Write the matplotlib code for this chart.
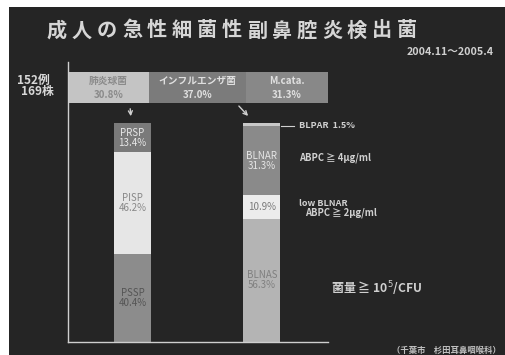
import matplotlib
matplotlib.use("Agg")
import matplotlib.pyplot as plt
from matplotlib.patches import Rectangle, FancyArrowPatch
from matplotlib.lines import Line2D

plt.rcParams['font.family'] = ['Noto Sans CJK JP', 'DejaVu Sans']

# data
top_names = ['肺炎球菌', 'インフルエンザ菌', 'M.cata.']
top_values = [30.8, 37.0, 31.3]
top_colors = ['#c4c4c4', '#7b7b7b', '#888888']
top_text = ['#8a8a8a', '#e0e0e0', '#e0e0e0']

spn_names = ['PSSP', 'PISP', 'PRSP']          # bottom -> top
spn_values = [40.4, 46.2, 13.4]
spn_colors = ['#8c8c8c', '#e6e6e6', '#7a7a7a']
spn_text = ['#555555', '#888888', '#e8e8e8']

hi_names = ['BLNAS', '', 'BLNAR', '']          # bottom -> top
hi_values = [56.3, 10.9, 31.3, 1.5]
hi_colors = ['#b4b4b4', '#ececec', '#8a8a8a', '#c8c8c8']
hi_text = ['#808080', '#7a7a7a', '#e6e6e6', '#e6e6e6']

W, H = 506, 355
fig = plt.figure(figsize=(W / 100, H / 100), dpi=100)
fig.patch.set_facecolor('white')


def fx(px):
    return px / W


def fy(py):
    return 1 - py / H


# dark slide background
fig.patches.append(Rectangle((fx(9), 0), 1, fy(7), transform=fig.transFigure,
                             facecolor='#252525', edgecolor='none', zorder=-10))

# title
title = '成人の急性細菌性副鼻腔炎検出菌'
for i, ch in enumerate(title):
    fig.text(fx(57 + 25 * i), fy(30), ch, color='#d6d6d6', fontsize=14.5,
             fontweight='bold', ha='center', va='center')
fig.text(fx(494), fy(52), '2004.11～2005.4', color='#d0d0d0', fontsize=7.7,
         fontweight='bold', ha='right', va='center')
fig.text(fx(50), fy(80), '152例', color='#d8d8d8', fontsize=8.5,
         fontweight='bold', ha='right', va='center')
fig.text(fx(54), fy(92), '169株', color='#d8d8d8', fontsize=8.5,
         fontweight='bold', ha='right', va='center')

# top horizontal stacked bar
ax_top = fig.add_axes([fx(68), fy(103), fx(328 - 68), (103 - 72) / H])
left = 0
for name, v, c, tc in zip(top_names, top_values, top_colors, top_text):
    ax_top.barh(0, v, left=left, height=1, color=c, edgecolor='none')
    ax_top.text(left + v / 2, 0.2, name, color=tc, fontsize=7, ha='center',
                va='center', fontweight='bold')
    ax_top.text(left + v / 2, -0.24, f'{v:.1f}%', color=tc, fontsize=7,
                ha='center', va='center', fontweight='bold')
    left += v
ax_top.set_xlim(0, sum(top_values))
ax_top.set_ylim(-0.5, 0.5)
ax_top.axis('off')

# vertical stacked bars
ax = fig.add_axes([fx(68), fy(342), fx(328 - 68), (342 - 123) / H])
bw = 0.286
for xpos, names, vals, cols, tcs in [(0, spn_names, spn_values, spn_colors, spn_text),
                                     (1, hi_names, hi_values, hi_colors, hi_text)]:
    bottom = 0
    for name, v, c, tc in zip(names, vals, cols, tcs):
        ax.bar(xpos, v, bottom=bottom, width=bw, color=c, edgecolor='none')
        if v > 5:
            lab = f'{name}\n{v:.1f}%' if name else f'{v:.1f}%'
            ax.text(xpos, bottom + v / 2, lab, color=tc, fontsize=7,
                    ha='center', va='center', linespacing=1.0)
        bottom += v
ax.set_xlim(-0.498, 1.51)
ax.set_ylim(0, 100)
ax.axis('off')

# axis-like frame lines
fig.add_artist(Line2D([fx(68), fx(68)], [fy(62), fy(342)], color='#cfcfcf', lw=1))
fig.add_artist(Line2D([fx(68), fx(328)], [fy(342), fy(342)], color='#cfcfcf', lw=1))

# arrows from top bar to the breakdown bars
for (x0, y0), (x1, y1) in [((130, 106), (131, 119)), ((237, 104), (250, 118))]:
    fig.add_artist(FancyArrowPatch((fx(x0), fy(y0)), (fx(x1), fy(y1)),
                                   transform=fig.transFigure, arrowstyle='->',
                                   mutation_scale=7, color='#d0d0d0', lw=1))

# annotations on the right
fig.add_artist(Line2D([fx(281), fx(294)], [fy(126), fy(126)], color='#d0d0d0', lw=0.8))
fig.text(fx(299), fy(126), 'BLPAR  1.5%', color='#d0d0d0', fontsize=6.5,
         fontweight='bold', va='center')
fig.text(fx(299), fy(158), 'ABPC ≧ 4μg/ml', color='#d0d0d0', fontsize=6.8,
         fontweight='bold', va='center')
fig.text(fx(299), fy(204), 'low BLNAR', color='#d0d0d0', fontsize=6.5,
         fontweight='bold', va='center')
fig.text(fx(305), fy(213), 'ABPC ≧ 2μg/ml', color='#d0d0d0', fontsize=6.8,
         fontweight='bold', va='center')
fig.text(fx(331), fy(289), '菌量 ≧ 10$^5$/CFU', color='#d0d0d0', fontsize=8.7,
         fontweight='bold', va='center')
fig.text(fx(392), fy(350), '（千葉市　杉田耳鼻咽喉科）', color='#c0c0c0', fontsize=6,
         fontweight='bold', va='center')

fig.savefig('out.png', dpi=100, facecolor=fig.get_facecolor())
